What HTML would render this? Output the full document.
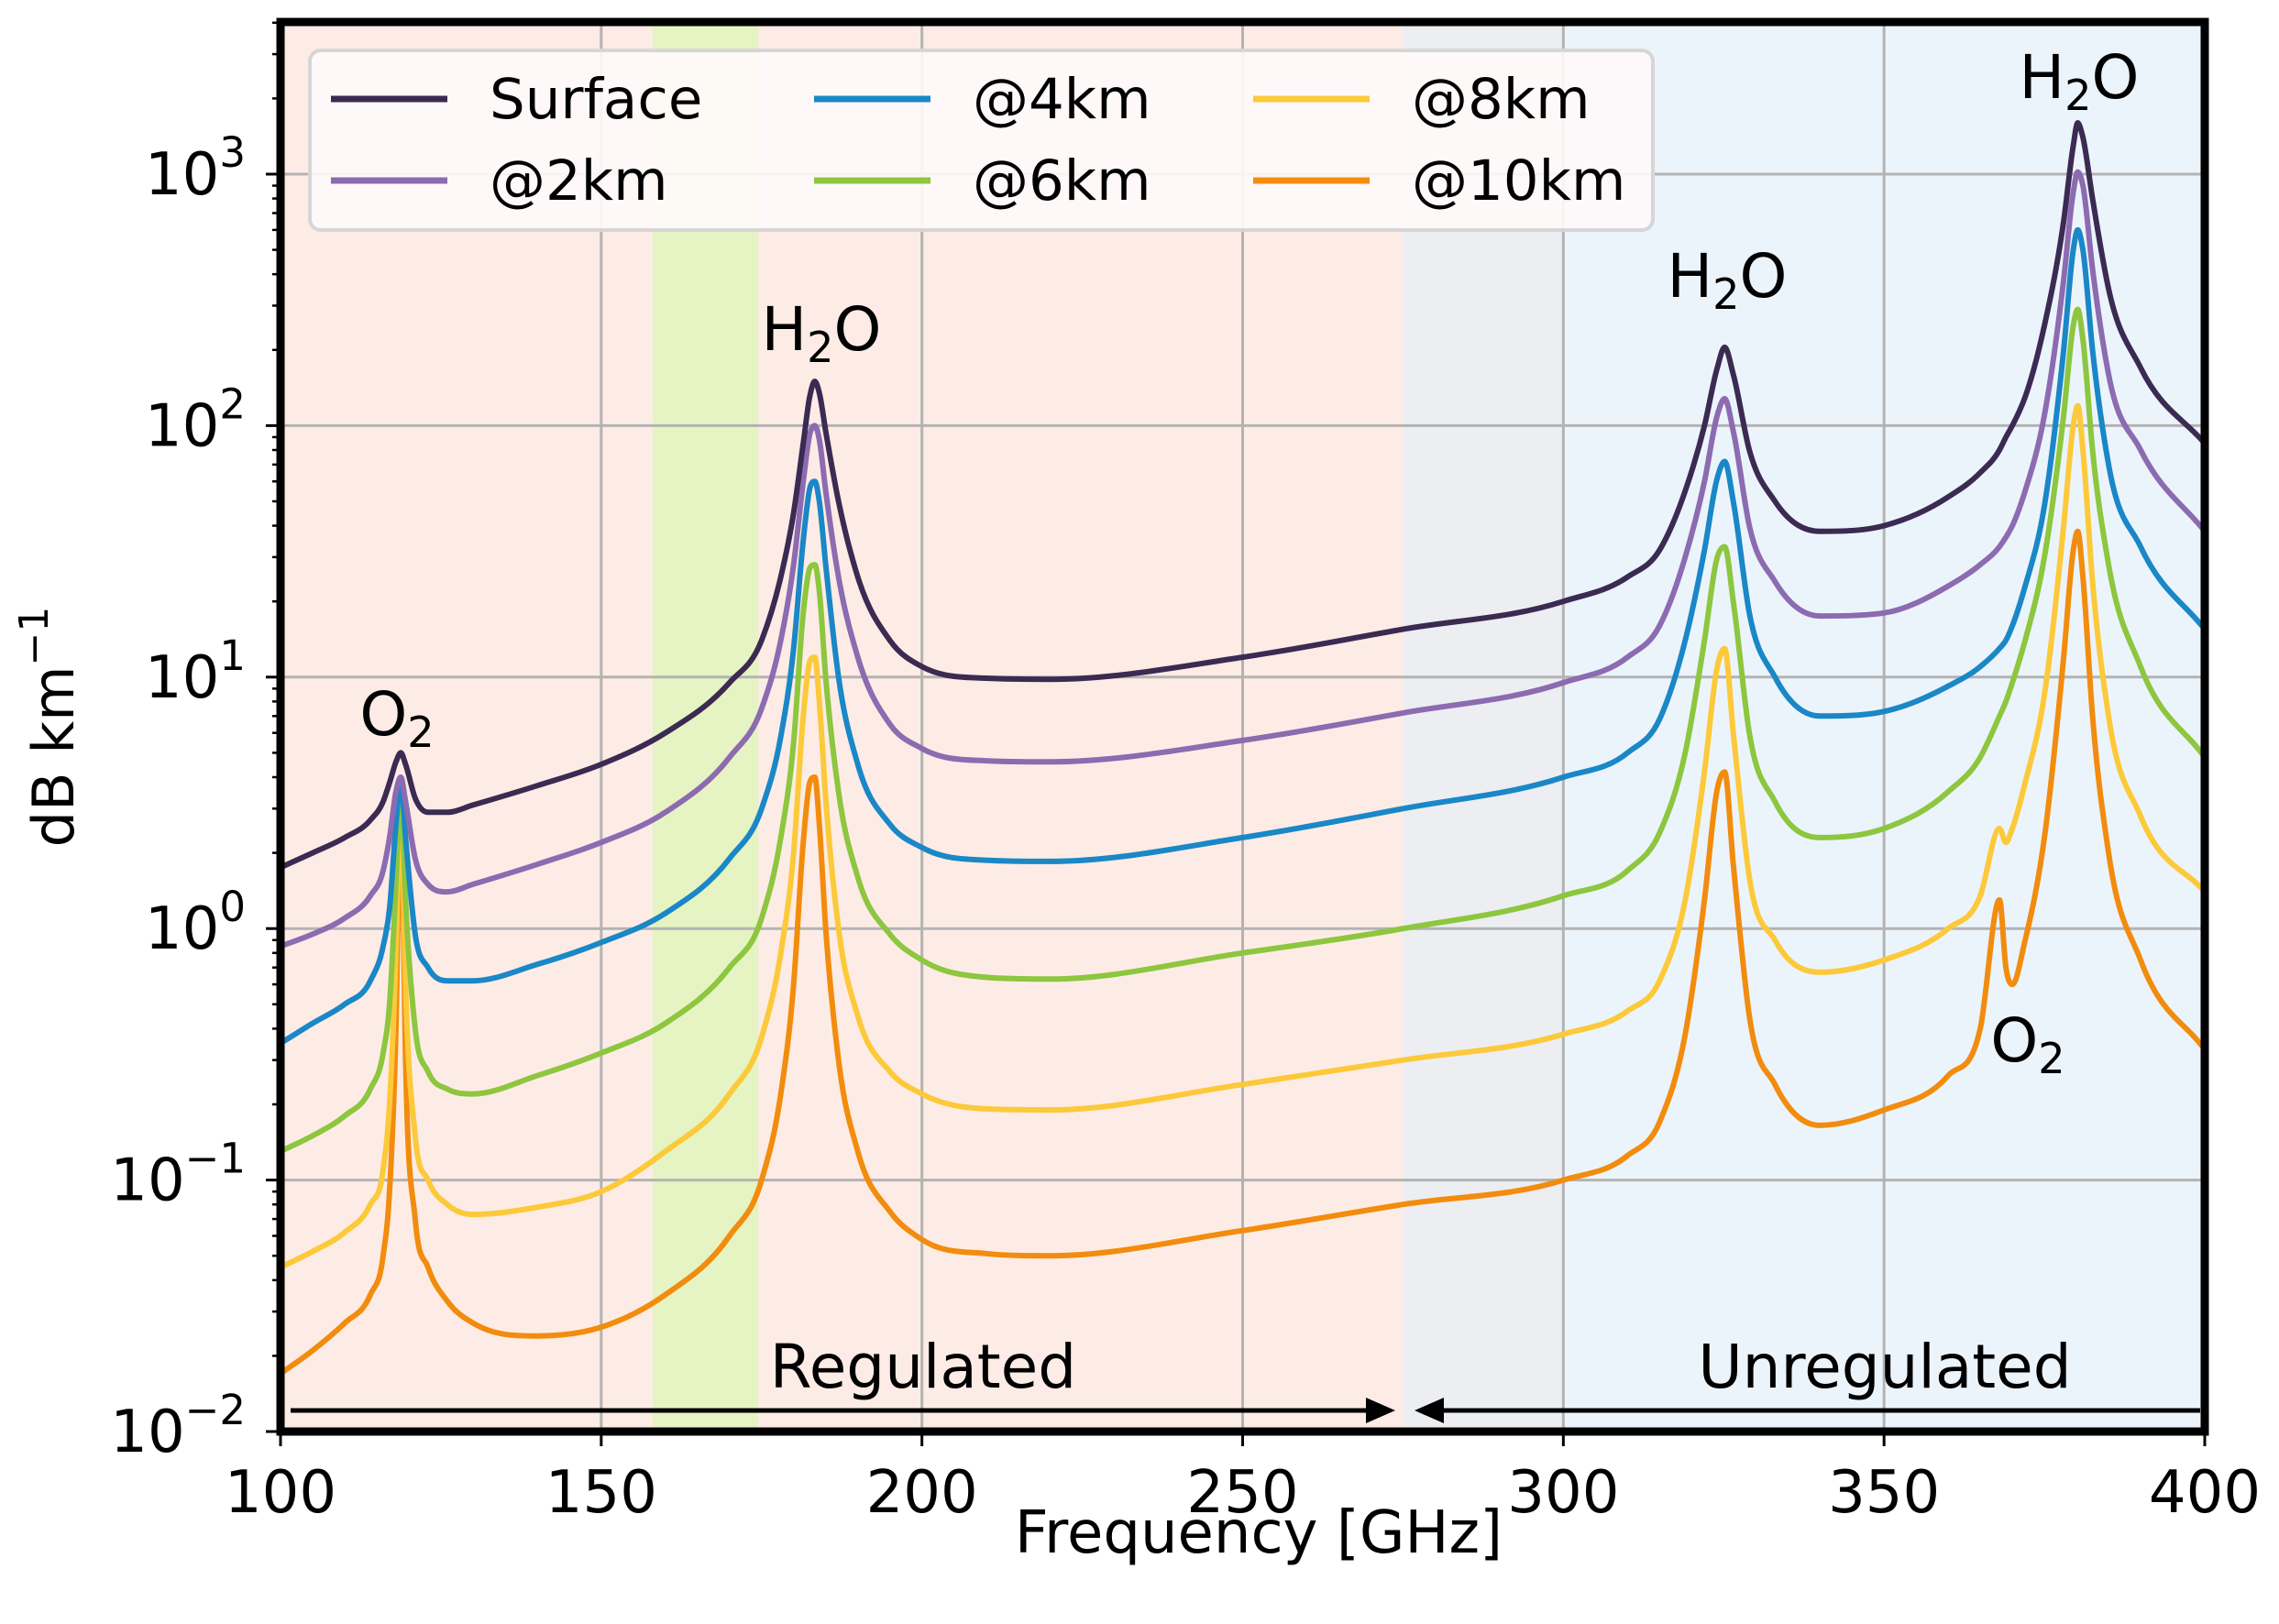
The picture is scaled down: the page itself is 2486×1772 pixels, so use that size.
<!DOCTYPE html>
<html><head><meta charset="utf-8"><style>
html,body{margin:0;padding:0;background:#fff}
svg{display:block;font-family:"DejaVu Sans","Liberation Sans",sans-serif}
</style></head><body>
<svg id="chart" width="2486" height="1772" viewBox="0 0 2486 1772" xmlns="http://www.w3.org/2000/svg">
<g id="bg"></g><g id="grid"></g><g id="series"></g><g id="annot"></g><g id="axes"></g><g id="legend"></g>
</svg>
<script>
const freqs=[100,105,110,114,116,117,118,118.75,119.5,121,123,126,130,140,150,160,170,175,178,180,181.5,182.5,183.3,184,185,187,190,195,200,210,220,250,275,300,310,315,319,322,324,325.15,326.5,329,333,340,350,360,365,368,369,370,372,375,378,379.5,380.2,381,382.5,385,390,400];
const surface=[1.75,2.0,2.3,2.7,3.2,3.8,4.6,5.0,4.5,3.3,2.9,2.9,3.1,3.7,4.5,6.0,9.5,14,25,45,85,130,150,135,95,50,25,14,11,9.9,9.8,12,15.5,20,25,32,55,100,170,205,160,80,50,38,40,52,65,80,90,100,130,250,650,1300,1600,1400,800,350,170,85];
const km2=[0.85,0.95,1.1,1.35,1.7,2.3,3.5,4.0,3.2,1.9,1.5,1.4,1.5,1.8,2.2,2.9,4.8,7.5,14,28,60,92,100,88,55,25,12,6.5,5.2,4.65,4.6,5.6,7.2,9.5,12,16,30,60,110,128,95,40,24,17.5,18,23,28,33,36,40,55,110,380,850,1020,900,420,160,80,38];
const km4=[0.35,0.42,0.5,0.62,0.85,1.2,2.6,3.9,2.3,0.95,0.7,0.62,0.62,0.72,0.88,1.15,1.9,3.0,5.8,13,35,56,60,50,28,10,4.5,2.6,2.1,1.87,1.85,2.3,3.0,4.0,5.0,6.8,14,32,62,72,50,18,10,7.0,7.3,9.2,11,13,14,16,23,48,200,500,600,500,200,70,33,15.5];
const km6=[0.13,0.15,0.18,0.23,0.32,0.5,1.5,3.8,1.3,0.4,0.27,0.23,0.22,0.26,0.32,0.42,0.7,1.1,2.3,5.5,18,27,28,22,10,3.5,1.6,0.95,0.75,0.64,0.63,0.8,1.0,1.35,1.7,2.4,5,14,30,33,20,6,3.2,2.3,2.5,3.5,4.8,7.0,8.0,9.5,14,30,110,250,290,220,80,28,11,4.8];
const km8=[0.045,0.052,0.062,0.08,0.11,0.2,0.8,3.7,0.6,0.15,0.1,0.08,0.073,0.078,0.09,0.13,0.22,0.37,0.8,2.0,7,11.5,12,8,3.3,1.0,0.45,0.27,0.22,0.192,0.19,0.24,0.3,0.38,0.47,0.62,1.3,4.2,11,13,6,1.6,0.9,0.67,0.75,1.0,1.35,2.5,2.2,2.5,3.8,8.5,40,100,120,80,24,7,2.8,1.4];
const km10=[0.017,0.021,0.027,0.035,0.05,0.09,0.4,3.7,0.3,0.07,0.045,0.033,0.027,0.024,0.026,0.035,0.06,0.1,0.22,0.6,2.2,3.8,4.0,2.6,1.0,0.3,0.13,0.075,0.058,0.051,0.05,0.063,0.08,0.1,0.125,0.17,0.38,1.3,3.6,4.2,1.8,0.45,0.24,0.165,0.19,0.26,0.4,1.3,0.7,0.6,0.9,2.3,12,32,38,25,7,2,0.75,0.33];
const seriesNames=["Surface","@2km","@4km","@6km","@8km","@10km"];
const xTicks=[100,150,200,250,300,350,400];
const yTickExp=[-2,-1,0,1,2,3];
const bands=[[100,275,"#fdece5","regulated-band"],[158,174.5,"#e5f4c2","green-band"],[275,300,"#eceef2","overlap-band"],[300,400,"#ecf4fb","unregulated-band"]];

const L=306,R=2405,T=24,B=1562;
const X=f=>L+(f-100)/300*(R-L);
const Y=v=>190+(3-Math.log10(v))*274.4;
const NS="http://www.w3.org/2000/svg";
function mk(tag,parent,attrs,text){const e=document.createElementNS(NS,tag);for(const k in attrs)e.setAttribute(k,attrs[k]);if(text!==undefined)e.textContent=text;parent.appendChild(e);return e;}
const bg=document.getElementById('bg'),grid=document.getElementById('grid'),ser=document.getElementById('series'),ann=document.getElementById('annot'),axes=document.getElementById('axes'),leg=document.getElementById('legend');

bands.forEach(b=>{const r=mk('rect',bg,{x:X(b[0]),y:T,width:X(b[1])-X(b[0]),height:B-T,fill:b[2]});

});

xTicks.forEach(t=>{if(t>100&&t<400){const l=mk('line',grid,{x1:X(t),x2:X(t),y1:T,y2:B,stroke:'#b3b3b3','stroke-width':3});

}});
yTickExp.forEach(e=>{const y=Y(Math.pow(10,e));if(y>T+5&&y<B-5){const l=mk('line',grid,{x1:L,x2:R,y1:y,y2:y,stroke:'#b3b3b3','stroke-width':3});

}});

function smoothPath(xs,ys){const n=xs.length,m=new Array(n);
m[0]=(ys[1]-ys[0])/(xs[1]-xs[0]);m[n-1]=(ys[n-1]-ys[n-2])/(xs[n-1]-xs[n-2]);
for(let i=1;i<n-1;i++){const d0=(ys[i]-ys[i-1])/(xs[i]-xs[i-1]),d1=(ys[i+1]-ys[i])/(xs[i+1]-xs[i]);
if(d0*d1<=0)m[i]=0;else{const h0=xs[i]-xs[i-1],h1=xs[i+1]-xs[i];let s=(d0*h1+d1*h0)/(h0+h1);
const lim=3*Math.min(Math.abs(d0),Math.abs(d1));if(Math.abs(s)>lim)s=Math.sign(s)*lim;m[i]=s;}}
let p=`M${xs[0].toFixed(1)},${ys[0].toFixed(1)}`;
for(let i=0;i<n-1;i++){const h=xs[i+1]-xs[i];p+=` C${(xs[i]+h/3).toFixed(1)},${(ys[i]+m[i]*h/3).toFixed(1)} ${(xs[i+1]-h/3).toFixed(1)},${(ys[i+1]-m[i+1]*h/3).toFixed(1)} ${xs[i+1].toFixed(1)},${ys[i+1].toFixed(1)}`;}
return p;}
const data=[surface,km2,km4,km6,km8,km10];
const colors=["#3b2a52","#8c6bb1","#1a87c7","#8dc63f","#fcc93a","#f28c0e"];
const sNames=["series-surface","series-2km","series-4km","series-6km","series-8km","series-10km"];
const order=[5,4,3,2,1,0];
order.forEach(i=>{const xs=freqs.map(X),ys=data[i].map(Y);
const p=mk('path',ser,{d:smoothPath(xs,ys),fill:'none',stroke:colors[i],'stroke-width':6,'stroke-linejoin':'round','stroke-linecap':'round'});

});

const fs=66;
function chem(x,y,a,sub,b,name){const t=mk('text',ann,{x:x,y:y,'font-size':fs,'text-anchor':'middle',fill:'#000'});


mk('tspan',t,{},a);mk('tspan',t,{'font-size':fs*0.7,dy:13},sub);if(b)mk('tspan',t,{dy:-13},b);}
chem(433,802,'O','2','', 'o2-label-118');
chem(896,382,'H','2','O','h2o-label-183');
chem(1884,324,'H','2','O','h2o-label-325');
chem(2268,107,'H','2','O','h2o-label-380');
chem(2212,1158,'O','2','', 'o2-label-368');
const rt=mk('text',ann,{x:1007,y:1514,'font-size':fs,'text-anchor':'middle'},'Regulated');


const ut=mk('text',ann,{x:2056,y:1514,'font-size':fs,'text-anchor':'middle'},'Unregulated');


const a1=mk('line',ann,{x1:317,x2:1495,y1:1539,y2:1539,stroke:'#000','stroke-width':5});


mk('polygon',ann,{points:'1522,1539 1490,1525 1490,1553',fill:'#000'});
const a2=mk('line',ann,{x1:1570,x2:2400,y1:1539,y2:1539,stroke:'#000','stroke-width':5});


mk('polygon',ann,{points:'1543,1539 1575,1525 1575,1553',fill:'#000'});

const frame=mk('rect',axes,{x:L,y:T,width:R-L,height:B-T,fill:'none',stroke:'#000','stroke-width':9});


xTicks.forEach(t=>{mk('line',axes,{x1:X(t),x2:X(t),y1:B,y2:B+16,stroke:'#000','stroke-width':3});
const lb=mk('text',axes,{x:X(t),y:1650,'font-size':64,'text-anchor':'middle'},String(t));

});
yTickExp.forEach(e=>{const y=Y(Math.pow(10,e));mk('line',axes,{x1:L-16,x2:L,y1:y,y2:y,stroke:'#000','stroke-width':3});
const t=mk('text',axes,{x:268,y:y+22,'font-size':64,'text-anchor':'end'});


mk('tspan',t,{},'10');mk('tspan',t,{'font-size':45,dy:-30},e<0?'\u2212'+(-e):String(e));
for(let k=2;k<10;k++){const yy=Y(k*Math.pow(10,e));if(yy>T&&yy<B)mk('line',axes,{x1:L-9,x2:L,y1:yy,y2:yy,stroke:'#000','stroke-width':2.5});}});
const xl=mk('text',axes,{x:1373,y:1694,'font-size':64,'text-anchor':'middle'},'Frequency [GHz]');


const yl=mk('text',axes,{x:0,y:0,'font-size':62,'text-anchor':'middle',transform:'translate(80,793) rotate(-90)'});


mk('tspan',yl,{},'dB km');mk('tspan',yl,{'font-size':44,dy:-28},'\u22121');

const lbox=mk('rect',leg,{x:338,y:55,width:1465,height:196,rx:12,fill:'#fffaf9','fill-opacity':0.9,stroke:'#d6d6d6','stroke-width':4});


const colX=[361,888,1367],rowY=[108,197];
seriesNames.forEach((n,i)=>{const c=Math.floor(i/2),r=i%2;
const g=mk('g',leg,{});


mk('line',g,{x1:colX[c],x2:colX[c]+127,y1:rowY[r],y2:rowY[r],stroke:colors[i],'stroke-width':7});
mk('text',g,{x:colX[c]+173,y:rowY[r]+21,'font-size':61},n);});
</script>
</body></html>
